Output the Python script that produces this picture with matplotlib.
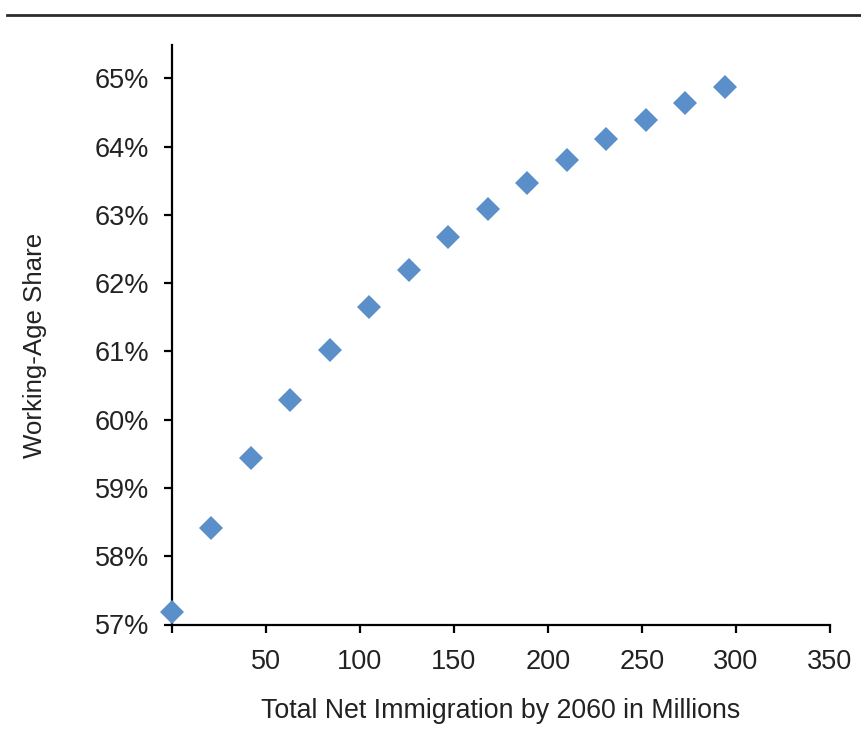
import matplotlib
matplotlib.use("Agg")
import matplotlib.pyplot as plt
from matplotlib.lines import Line2D
from matplotlib.ticker import FuncFormatter

# Data
immigration = [0, 21, 42, 63, 84, 105, 126, 147, 168, 189, 210, 231, 252, 273, 294]
share = [57.19, 58.42, 59.44, 60.29, 61.02, 61.65, 62.19, 62.67, 63.09, 63.47,
         63.81, 64.11, 64.39, 64.64, 64.88]
x_ticks = [0, 50, 100, 150, 200, 250, 300, 350]
x_ticklabels = ["", "50", "100", "150", "200", "250", "300", "350"]
y_ticks = [57, 58, 59, 60, 61, 62, 63, 64, 65]

plt.rcParams['font.family'] = ['Liberation Sans', 'DejaVu Sans']
text_color = '#222222'

fig = plt.figure(figsize=(8.62, 7.42), dpi=100)
ax = fig.add_axes([172/862, 1 - 624.5/742, (830-172)/862, (624.5-45)/742])

ax.plot(immigration, share, linestyle='none', marker='D', markersize=12,
        color='#5B8FC9', markeredgewidth=0, clip_on=False, zorder=3)

ax.set_xlim(0, 350)
ax.set_ylim(57, 65.49)
ax.set_xticks(x_ticks)
ax.set_xticklabels(x_ticklabels)
ax.set_yticks(y_ticks)
ax.yaxis.set_major_formatter(FuncFormatter(lambda v, p: f"{int(round(v))}%"))

for s in ['top', 'right']:
    ax.spines[s].set_visible(False)
for s in ['left', 'bottom']:
    ax.spines[s].set_linewidth(1.6)
    ax.spines[s].set_color('black')

ax.tick_params(axis='both', direction='out', length=5.5, width=1.6, color='black',
               labelsize=19.5, labelcolor=text_color)
ax.tick_params(axis='x', pad=12)
ax.tick_params(axis='y', pad=11)

ax.set_xlabel("Total Net Immigration by 2060 in Millions", fontsize=19.3,
              color=text_color, labelpad=17)
ax.set_ylabel("Working-Age Share", fontsize=18.6, color=text_color)
ax.yaxis.set_label_coords(-0.19, 0.481)

# top rule
fig.add_artist(Line2D([7/862, 1], [1 - 14.5/742, 1 - 14.5/742],
                      transform=fig.transFigure, color='#2b2b2b', linewidth=2.0))

fig.savefig("out.png", dpi=100)
